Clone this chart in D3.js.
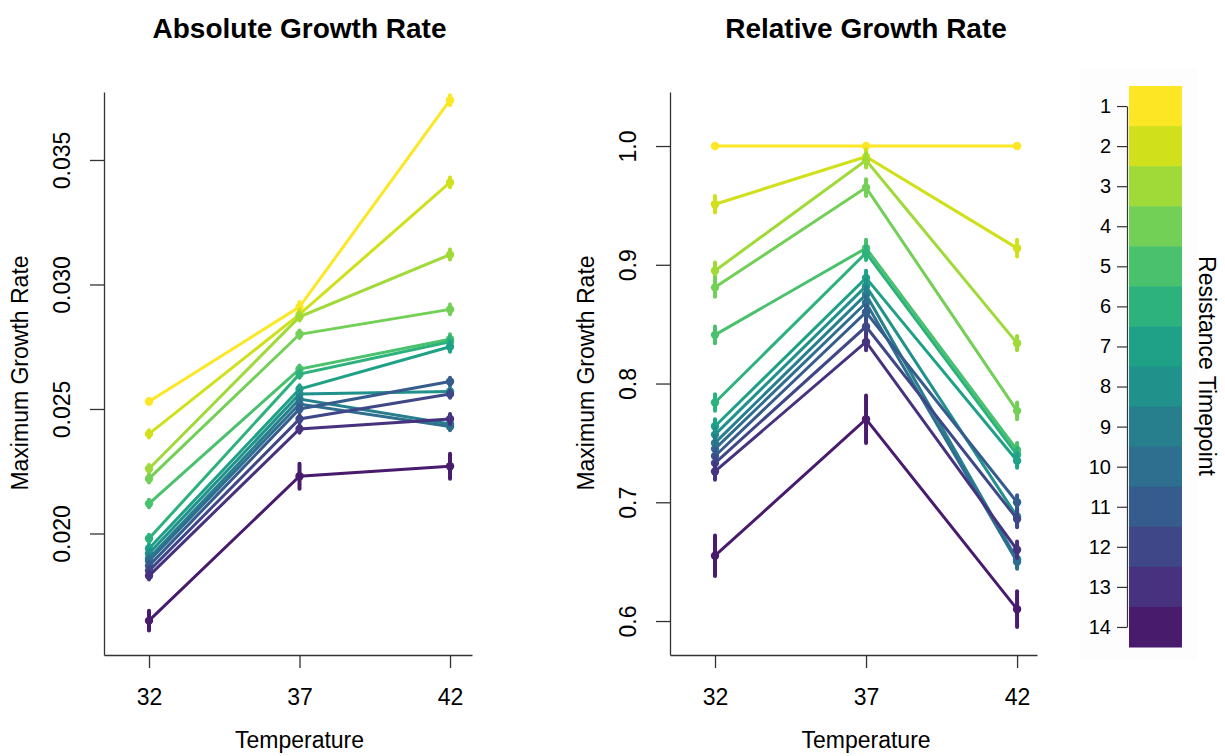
<!DOCTYPE html>
<html>
<head>
<meta charset="utf-8">
<script src="https://cdn.jsdelivr.net/npm/d3@7"></script>
<style>
  body { margin: 0; background: #fff; }
  svg { display: block; font-family: "Liberation Sans", Arial, sans-serif; }
</style>
</head>
<body>
<script>
// temperatures on the x axis
const temps = [32, 37, 42];
// resistance timepoints (one line per timepoint)
const timepoints = [1, 2, 3, 4, 5, 6, 7, 8, 9, 10, 11, 12, 13, 14];

// absolute growth rate, per temperature, indexed by timepoint
const abs32 = [0.0253, 0.0240, 0.0226, 0.0222, 0.0212, 0.0198, 0.0194, 0.0192, 0.0190, 0.0189, 0.0187, 0.0185, 0.0183, 0.0165];
const abs37 = [0.0291, 0.0288, 0.0287, 0.0280, 0.0266, 0.0264, 0.0258, 0.0256, 0.0254, 0.0252, 0.0250, 0.0246, 0.0242, 0.0223];
const abs42 = [0.0374, 0.0341, 0.0312, 0.0290, 0.0278, 0.0277, 0.0275, 0.0257, 0.0244, 0.0243, 0.0261, 0.0256, 0.0246, 0.0227];
const absErr32 = [0.0001, 0.00015, 0.00015, 0.00015, 0.00015, 0.00015, 0.00015, 0.00015, 0.00015, 0.00015, 0.00015, 0.00015, 0.00015, 0.0004];
const absErr37 = [0.0002, 0.0002, 0.00015, 0.00015, 0.00015, 0.00015, 0.00015, 0.00015, 0.00015, 0.00015, 0.00015, 0.00015, 0.00015, 0.0005];
const absErr42 = [0.0002, 0.0002, 0.0002, 0.0002, 0.0002, 0.0002, 0.0002, 0.00015, 0.00015, 0.00015, 0.00015, 0.00015, 0.0002, 0.0005];

// relative growth rate
const rel32 = [1.000, 0.951, 0.895, 0.881, 0.841, 0.784, 0.764, 0.757, 0.750, 0.745, 0.739, 0.733, 0.726, 0.655];
const rel37 = [1.000, 0.991, 0.988, 0.965, 0.914, 0.910, 0.889, 0.882, 0.875, 0.868, 0.860, 0.848, 0.835, 0.770];
const rel42 = [1.000, 0.914, 0.834, 0.777, 0.744, 0.740, 0.735, 0.688, 0.652, 0.650, 0.700, 0.686, 0.660, 0.610];
const relErr32 = [0, 0.007, 0.007, 0.008, 0.007, 0.007, 0.006, 0.006, 0.006, 0.006, 0.006, 0.006, 0.007, 0.017];
const relErr37 = [0, 0.006, 0.006, 0.007, 0.007, 0.006, 0.006, 0.006, 0.006, 0.006, 0.006, 0.006, 0.007, 0.020];
const relErr42 = [0, 0.007, 0.006, 0.007, 0.006, 0.006, 0.006, 0.007, 0.006, 0.006, 0.006, 0.007, 0.007, 0.015];

const absTicks = [0.020, 0.025, 0.030, 0.035];
const relTicks = [0.6, 0.7, 0.8, 0.9, 1.0];

const W = 1225, H = 756;
const FONT = 23;

const color = (tp) => d3.interpolateViridis((15 - tp) / 14);

const svg = d3.select('body').append('svg')
  .attr('width', W)
  .attr('height', H);

// build series for a panel
const makeSeries = (vals, errs) => timepoints.map((tp, i) => ({
  tp: tp,
  pts: temps.map((t, j) => ({ t: t, v: vals[j][i], e: errs[j][i] }))
}));

const drawPanel = (cfg) => {
  const x = d3.scaleLinear().domain(cfg.xDomain).range([cfg.left, cfg.right]);
  const y = d3.scaleLinear().domain(cfg.yDomain).range([cfg.bottom, cfg.top]);
  const g = svg.append('g');

  // title
  g.append('text')
    .attr('x', x(37))
    .attr('y', 38)
    .attr('text-anchor', 'middle')
    .attr('font-size', 28)
    .attr('font-weight', 'bold')
    .text(cfg.title);

  // x axis
  const xAxis = g.append('g')
    .attr('transform', `translate(0, ${cfg.bottom})`)
    .call(d3.axisBottom(x).tickValues(temps).tickSize(13).tickSizeOuter(0));
  xAxis.select('.domain').attr('stroke', '#333').attr('stroke-width', 1.3);
  xAxis.selectAll('.tick line').attr('stroke', '#333').attr('stroke-width', 1.3);
  xAxis.selectAll('.tick text')
    .attr('y', 50).attr('dy', 0)
    .attr('font-size', FONT)
    .attr('font-family', '"Liberation Sans", Arial, sans-serif')
    .attr('fill', '#000');

  g.append('text')
    .attr('x', x(37))
    .attr('y', 748)
    .attr('text-anchor', 'middle')
    .attr('font-size', FONT)
    .text('Temperature');

  // y axis
  const yAxis = g.append('g')
    .attr('transform', `translate(${cfg.left}, 0)`)
    .call(d3.axisLeft(y).tickValues(cfg.ticks).tickFormat(cfg.fmt).tickSize(14).tickSizeOuter(0));
  yAxis.select('.domain').attr('stroke', '#333').attr('stroke-width', 1.3);
  yAxis.selectAll('.tick line').attr('stroke', '#333').attr('stroke-width', 1.3);
  yAxis.selectAll('.tick text')
    .attr('transform', 'rotate(-90)')
    .attr('x', 0).attr('y', -34).attr('dy', 0)
    .attr('text-anchor', 'middle')
    .attr('font-size', FONT)
    .attr('font-family', '"Liberation Sans", Arial, sans-serif')
    .attr('fill', '#000');

  g.append('text')
    .attr('transform', `translate(${cfg.left - 76}, 373) rotate(-90)`)
    .attr('text-anchor', 'middle')
    .attr('font-size', FONT)
    .text('Maximum Growth Rate');

  // series
  const line = d3.line().x(d => x(d.t)).y(d => y(d.v));
  const series = g.selectAll('.series')
    .data(cfg.series)
    .enter()
    .append('g')
    .attr('class', 'series');

  series.append('path')
    .attr('d', d => line(d.pts))
    .attr('fill', 'none')
    .attr('stroke', d => color(d.tp))
    .attr('stroke-width', 3);

  series.selectAll('.err')
    .data(d => d.pts.map(p => Object.assign({ tp: d.tp }, p)))
    .enter()
    .append('line')
    .attr('x1', d => x(d.t)).attr('x2', d => x(d.t))
    .attr('y1', d => y(d.v - d.e)).attr('y2', d => y(d.v + d.e))
    .attr('stroke', d => color(d.tp))
    .attr('stroke-width', 4)
    .attr('stroke-linecap', 'round');

  series.selectAll('circle')
    .data(d => d.pts.map(p => Object.assign({ tp: d.tp }, p)))
    .enter()
    .append('circle')
    .attr('cx', d => x(d.t))
    .attr('cy', d => y(d.v))
    .attr('r', 4.2)
    .attr('fill', d => color(d.tp));
};

drawPanel({
  title: 'Absolute Growth Rate',
  left: 104, right: 472, top: 92, bottom: 655,
  xDomain: [30.505, 42.73],
  yDomain: [0.01512, 0.03773],
  ticks: absTicks,
  fmt: d3.format('.3f'),
  series: makeSeries([abs32, abs37, abs42], [absErr32, absErr37, absErr42])
});

drawPanel({
  title: 'Relative Growth Rate',
  left: 670, right: 1037, top: 92, bottom: 655,
  xDomain: [30.51, 42.66],
  yDomain: [0.5714, 1.0455],
  ticks: relTicks,
  fmt: d3.format('.1f'),
  series: makeSeries([rel32, rel37, rel42], [relErr32, relErr37, relErr42])
});

// legend
const legend = svg.append('g');
legend.append('rect')
  .attr('x', 1080).attr('y', 68)
  .attr('width', 117).attr('height', 592)
  .attr('fill', '#fdfdfd');

const band = d3.scaleBand().domain(timepoints).range([86, 647]);

legend.selectAll('.band')
  .data(timepoints)
  .enter()
  .append('rect')
  .attr('x', 1129)
  .attr('y', d => band(d))
  .attr('width', 53)
  .attr('height', band.bandwidth() + 0.5)
  .attr('fill', d => color(d));

const lAxis = legend.append('g')
  .attr('transform', 'translate(1127, 0)')
  .call(d3.axisLeft(d3.scalePoint().domain(timepoints).range([band(1) + band.bandwidth() / 2, band(14) + band.bandwidth() / 2]))
    .tickSize(10).tickSizeOuter(0).tickPadding(6));
lAxis.select('.domain').attr('stroke', '#333').attr('stroke-width', 1.2);
lAxis.selectAll('.tick line').attr('stroke', '#333').attr('stroke-width', 1.2);
lAxis.selectAll('.tick text')
  .attr('font-size', 20)
  .attr('font-family', '"Liberation Sans", Arial, sans-serif')
  .attr('fill', '#000');

legend.append('text')
  .attr('transform', 'translate(1199, 366) rotate(90)')
  .attr('text-anchor', 'middle')
  .attr('font-size', FONT)
  .text('Resistance Timepoint');
</script>
</body>
</html>
